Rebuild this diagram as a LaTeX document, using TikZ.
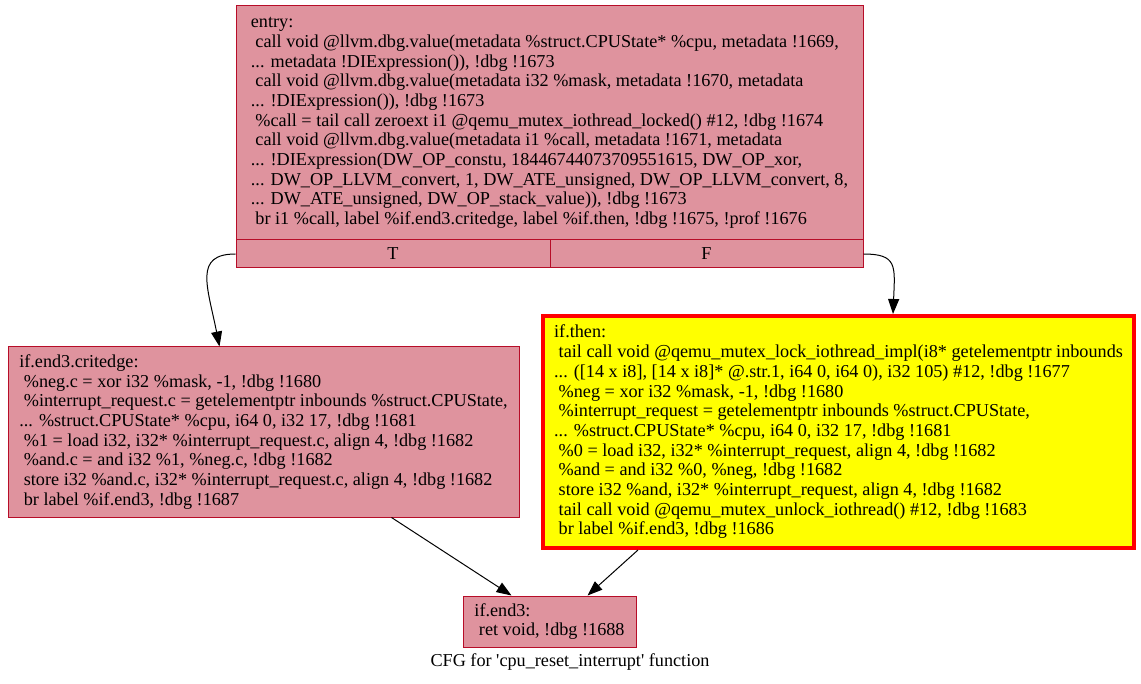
\documentclass[tikz,border=0pt]{standalone}
\usepackage{fontspec}
\setmainfont{Liberation Serif}
\usepackage{tikz}
\usetikzlibrary{arrows.meta,positioning,calc}
\definecolor{cfgred}{RGB}{183,13,40}
\definecolor{cfgfill}{RGB}{223,147,158}
\definecolor{hotred}{RGB}{255,0,0}
\definecolor{hotfill}{RGB}{255,255,0}
\newcommand{\ind}{\hspace*{0.25em}}
\tikzset{
  block/.style={draw=cfgred, fill=cfgfill, line width=1pt, align=left, inner sep=0pt},
  hotblock/.style={draw=hotred, fill=hotfill, line width=4pt, align=left, inner sep=0pt},
  cell/.style={draw=cfgred, fill=cfgfill, line width=1pt, inner sep=0pt, minimum height=28pt},
  cfgedge/.style={-{Triangle[length=15pt,width=11pt]}, line width=1pt, black}
}

\begin{document}
\begin{tikzpicture}[x=1pt, y=-1pt, font=\fontsize{18.2}{19.7}\selectfont]
  \useasboundingbox (0,0) rectangle (1141,684);
  % Blocks
  \node[block, minimum width=627pt, minimum height=234pt] (entry) at (549.5,123) {%
    entry:\\
    \ind call void @llvm.dbg.value(metadata \%struct.CPUState* \%cpu, metadata !1669,\\
    ... metadata !DIExpression()), !dbg !1673\\
    \ind call void @llvm.dbg.value(metadata i32 \%mask, metadata !1670, metadata\\
    ... !DIExpression()), !dbg !1673\\
    \ind \%call = tail call zeroext i1 @qemu\_mutex\_iothread\_locked() \#12, !dbg !1674\\
    \ind call void @llvm.dbg.value(metadata i1 \%call, metadata !1671, metadata\\
    ... !DIExpression(DW\_OP\_constu, 18446744073709551615, DW\_OP\_xor,\\
    ... DW\_OP\_LLVM\_convert, 1, DW\_ATE\_unsigned, DW\_OP\_LLVM\_convert, 8,\\
    ... DW\_ATE\_unsigned, DW\_OP\_stack\_value)), !dbg !1673\\
    \ind br i1 \%call, label \%if.end3.critedge, label \%if.then, !dbg !1675, !prof !1676};
  \node[cell, minimum width=314pt] (tcell) at (393,254) {T};
  \node[cell, minimum width=313pt] (fcell) at (706.5,254) {F};
  \node[block, minimum width=511pt, minimum height=170pt] (crit) at (263.5,432) {%
    if.end3.critedge:\\
    \ind \%neg.c = xor i32 \%mask, -1, !dbg !1680\\
    \ind \%interrupt\_request.c = getelementptr inbounds \%struct.CPUState,\\
    ... \%struct.CPUState* \%cpu, i64 0, i32 17, !dbg !1681\\
    \ind \%1 = load i32, i32* \%interrupt\_request.c, align 4, !dbg !1682\\
    \ind \%and.c = and i32 \%1, \%neg.c, !dbg !1682\\
    \ind store i32 \%and.c, i32* \%interrupt\_request.c, align 4, !dbg !1682\\
    \ind br label \%if.end3, !dbg !1687};
  \node[hotblock, minimum width=591pt, minimum height=232pt] (then) at (838.5,432) {%
    if.then:\\
    \ind tail call void @qemu\_mutex\_lock\_iothread\_impl(i8* getelementptr inbounds\\
    ... ([14 x i8], [14 x i8]* @.str.1, i64 0, i64 0), i32 105) \#12, !dbg !1677\\
    \ind \%neg = xor i32 \%mask, -1, !dbg !1680\\
    \ind \%interrupt\_request = getelementptr inbounds \%struct.CPUState,\\
    ... \%struct.CPUState* \%cpu, i64 0, i32 17, !dbg !1681\\
    \ind \%0 = load i32, i32* \%interrupt\_request, align 4, !dbg !1682\\
    \ind \%and = and i32 \%0, \%neg, !dbg !1682\\
    \ind store i32 \%and, i32* \%interrupt\_request, align 4, !dbg !1682\\
    \ind tail call void @qemu\_mutex\_unlock\_iothread() \#12, !dbg !1683\\
    \ind br label \%if.end3, !dbg !1686};
  \node[block, minimum width=173pt, minimum height=51pt] (end3) at (549.5,621.5) {%
    if.end3:\\
    \ind ret void, !dbg !1688};
  \node (title) at (570,662) {CFG for \textquotesingle cpu\_reset\_interrupt\textquotesingle\ function};
  % Edges
  \draw[cfgedge] (tcell.west) .. controls +(-42,0) and +(-12,-60) .. ([xshift=212pt]crit.north west);
  \draw[cfgedge] (fcell.east) .. controls +(34,0) and +(2,-48) .. ([xshift=352pt]then.north west);
  \draw[cfgedge] ([xshift=384pt]crit.south west) -- ([xshift=49pt]end3.north west);
  \draw[cfgedge] ([xshift=97pt]then.south west) -- ([xshift=125pt]end3.north west);
\end{tikzpicture}
\end{document}
